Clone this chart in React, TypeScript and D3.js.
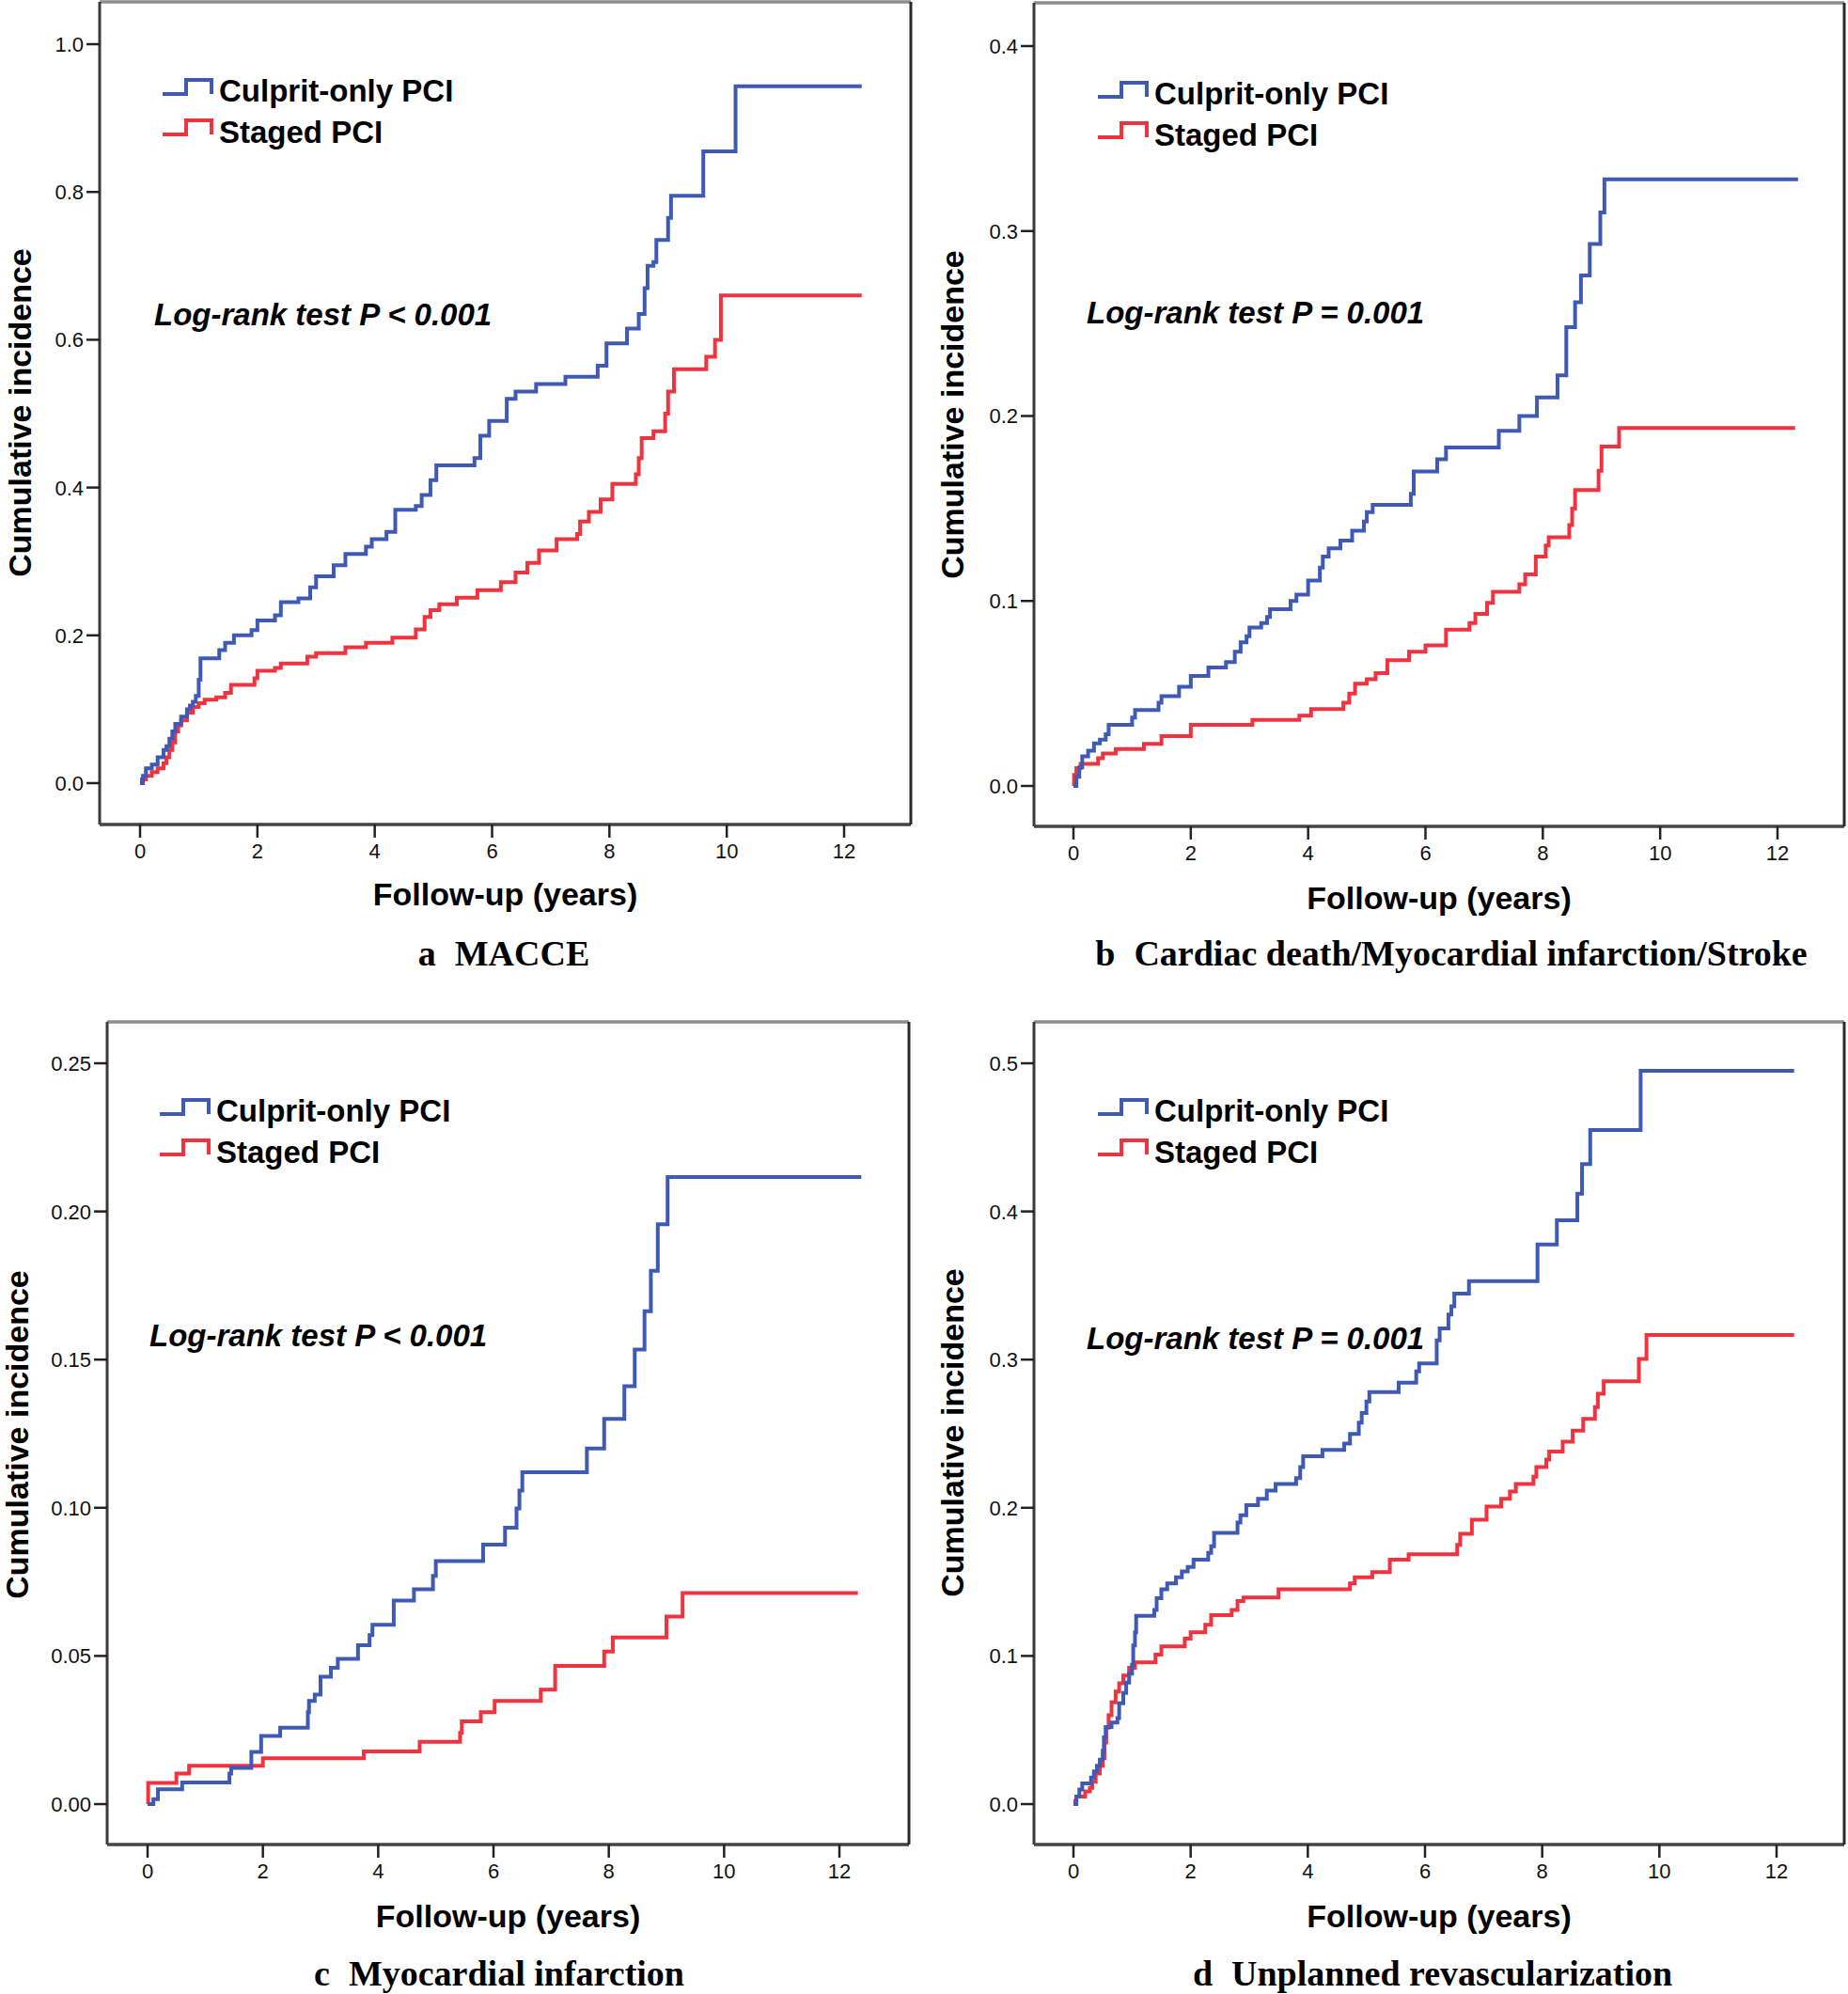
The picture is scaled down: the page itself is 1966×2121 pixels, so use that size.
import React from 'react';
import * as d3 from 'd3';

// step points: [years, cumulative incidence], value holds from that time onward
const maccCulprit = [[0,0],[0.05,0.01],[0.1,0.02],[0.2,0.025],[0.3,0.035],[0.4,0.045],[0.45,0.05],[0.5,0.06],[0.55,0.07],[0.6,0.08],[0.7,0.09],[0.8,0.1],[0.85,0.105],[0.9,0.11],[0.95,0.118],[1.0,0.14],[1.03,0.169],[1.35,0.18],[1.45,0.19],[1.6,0.2],[1.9,0.207],[2.0,0.22],[2.3,0.227],[2.4,0.245],[2.7,0.25],[2.9,0.265],[3.0,0.28],[3.3,0.295],[3.5,0.31],[3.85,0.32],[3.95,0.33],[4.2,0.34],[4.35,0.37],[4.7,0.375],[4.8,0.39],[4.95,0.41],[5.05,0.43],[5.7,0.44],[5.8,0.47],[5.95,0.49],[6.25,0.52],[6.4,0.53],[6.75,0.54],[7.25,0.55],[7.8,0.565],[7.95,0.595],[8.3,0.615],[8.5,0.635],[8.6,0.67],[8.65,0.7],[8.75,0.705],[8.8,0.735],[9.0,0.765],[9.05,0.795],[9.6,0.855],[10.15,0.943],[12.3,0.943]];
const maccStaged = [[0,0.005],[0.1,0.01],[0.2,0.015],[0.3,0.02],[0.4,0.027],[0.45,0.035],[0.5,0.045],[0.55,0.055],[0.6,0.07],[0.65,0.078],[0.7,0.085],[0.8,0.095],[0.9,0.103],[1.0,0.108],[1.1,0.113],[1.3,0.116],[1.45,0.122],[1.55,0.133],[1.95,0.142],[2.0,0.152],[2.3,0.156],[2.4,0.162],[2.85,0.171],[3.0,0.176],[3.5,0.184],[3.85,0.19],[4.3,0.197],[4.7,0.208],[4.85,0.225],[4.95,0.234],[5.1,0.242],[5.4,0.251],[5.75,0.261],[6.15,0.272],[6.4,0.285],[6.6,0.298],[6.8,0.315],[7.1,0.33],[7.45,0.337],[7.5,0.354],[7.65,0.367],[7.85,0.384],[8.05,0.405],[8.45,0.418],[8.5,0.44],[8.55,0.467],[8.75,0.476],[8.95,0.5],[9.0,0.53],[9.1,0.56],[9.65,0.577],[9.8,0.6],[9.9,0.66],[12.3,0.66]];

const cdmsCulprit = [[0,0],[0.05,0.005],[0.1,0.01],[0.15,0.016],[0.25,0.019],[0.35,0.023],[0.45,0.025],[0.55,0.028],[0.6,0.033],[1.0,0.037],[1.05,0.041],[1.45,0.045],[1.5,0.0485],[1.8,0.0536],[2.0,0.0595],[2.3,0.064],[2.6,0.067],[2.75,0.0725],[2.85,0.0777],[2.95,0.081],[3.0,0.0856],[3.2,0.088],[3.3,0.0914],[3.35,0.0955],[3.7,0.1],[3.8,0.1034],[4.0,0.111],[4.2,0.118],[4.25,0.124],[4.35,0.1285],[4.55,0.1326],[4.75,0.138],[4.95,0.143],[5.0,0.148],[5.1,0.152],[5.75,0.158],[5.8,0.17],[6.2,0.1766],[6.35,0.183],[7.25,0.192],[7.6,0.2],[7.9,0.21],[8.25,0.222],[8.4,0.248],[8.55,0.2615],[8.65,0.276],[8.8,0.293],[8.98,0.31],[9.05,0.328],[12.35,0.328]];
const cdmsStaged = [[0,0],[0.01,0.006],[0.05,0.0096],[0.12,0.012],[0.42,0.015],[0.5,0.0175],[0.72,0.02],[1.2,0.0227],[1.5,0.027],[2.0,0.033],[3.05,0.0357],[3.85,0.038],[4.05,0.0416],[4.6,0.045],[4.7,0.05],[4.8,0.0553],[5.0,0.0577],[5.15,0.061],[5.35,0.068],[5.72,0.0725],[6.0,0.076],[6.35,0.0845],[6.75,0.088],[6.85,0.093],[7.05,0.099],[7.15,0.105],[7.6,0.109],[7.7,0.1144],[7.88,0.124],[8.05,0.13],[8.1,0.1344],[8.45,0.141],[8.5,0.15],[8.55,0.16],[8.95,0.1704],[9.0,0.1835],[9.3,0.1935],[12.3,0.1935]];

const miCulprit = [[0,0],[0.1,0.0017],[0.18,0.005],[0.6,0.0073],[1.42,0.0103],[1.45,0.0122],[1.8,0.0176],[1.97,0.023],[2.3,0.0258],[2.78,0.031],[2.8,0.0348],[2.9,0.037],[3.0,0.043],[3.18,0.046],[3.3,0.049],[3.65,0.0536],[3.85,0.057],[3.9,0.0605],[4.27,0.0687],[4.62,0.0725],[4.95,0.077],[5.0,0.082],[5.82,0.0876],[6.2,0.0933],[6.4,0.0998],[6.45,0.1058],[6.5,0.112],[7.62,0.12],[7.92,0.13],[8.27,0.141],[8.45,0.1534],[8.62,0.1663],[8.73,0.18],[8.85,0.1957],[9.02,0.2116],[12.38,0.2116]];
const miStaged = [[0,0],[0.01,0.0071],[0.5,0.0103],[0.72,0.0129],[2.0,0.0155],[3.75,0.0178],[4.72,0.021],[5.42,0.024],[5.45,0.0279],[5.78,0.031],[6.02,0.0348],[6.82,0.0386],[7.07,0.0466],[7.92,0.0515],[8.07,0.0562],[9.0,0.0633],[9.28,0.0712],[12.32,0.0712]];

const revascCulprit = [[0,0],[0.05,0.005],[0.1,0.0099],[0.15,0.014],[0.3,0.018],[0.35,0.022],[0.4,0.0258],[0.45,0.03],[0.5,0.036],[0.52,0.045],[0.55,0.052],[0.65,0.055],[0.75,0.058],[0.78,0.068],[0.85,0.075],[0.9,0.082],[0.95,0.088],[1.0,0.094],[1.02,0.107],[1.05,0.116],[1.07,0.127],[1.38,0.131],[1.42,0.139],[1.5,0.145],[1.6,0.149],[1.75,0.153],[1.85,0.157],[1.95,0.16],[2.05,0.165],[2.3,0.1695],[2.35,0.174],[2.4,0.183],[2.8,0.19],[2.85,0.195],[2.95,0.2017],[3.15,0.206],[3.3,0.2116],[3.45,0.216],[3.8,0.22],[3.87,0.2275],[3.92,0.2348],[4.25,0.239],[4.62,0.2433],[4.72,0.2498],[4.87,0.2575],[4.92,0.264],[5.0,0.2717],[5.05,0.278],[5.55,0.2845],[5.85,0.292],[5.9,0.2974],[6.2,0.313],[6.25,0.321],[6.4,0.3305],[6.45,0.336],[6.5,0.3446],[6.75,0.353],[7.92,0.3777],[8.25,0.394],[8.6,0.412],[8.68,0.432],[8.82,0.455],[9.68,0.495],[12.3,0.495]];
const revascStaged = [[0,0.002],[0.05,0.005],[0.2,0.0086],[0.28,0.011],[0.32,0.015],[0.38,0.0206],[0.45,0.0258],[0.5,0.031],[0.53,0.0416],[0.56,0.0515],[0.6,0.06],[0.65,0.0687],[0.72,0.076],[0.78,0.0815],[0.85,0.0867],[0.95,0.092],[1.05,0.0957],[1.4,0.1009],[1.5,0.1064],[1.9,0.1116],[2.0,0.116],[2.25,0.121],[2.35,0.1275],[2.7,0.131],[2.8,0.137],[2.9,0.1395],[3.5,0.145],[4.72,0.149],[4.8,0.153],[5.1,0.1566],[5.4,0.165],[5.72,0.1687],[6.55,0.175],[6.6,0.1824],[6.8,0.192],[7.05,0.2009],[7.3,0.206],[7.45,0.211],[7.55,0.216],[7.85,0.221],[7.9,0.2275],[8.07,0.2326],[8.12,0.238],[8.35,0.2446],[8.52,0.252],[8.7,0.26],[8.9,0.268],[8.95,0.277],[9.05,0.2854],[9.65,0.3004],[9.78,0.3167],[12.3,0.3167]];

const xTicks = [0, 2, 4, 6, 8, 10, 12];
const seriesNames = ['Culprit-only PCI', 'Staged PCI'];
const BLUE = '#3f5ab5';
const RED = '#f0333f';

type Pt = number[];
type PanelDef = {
  letter: string; caption: string; pText: string;
  yTicks: number[]; yFmt: string;
  culprit: Pt[]; staged: Pt[];
  frame: { L: number; T: number; R: number; B: number };
  xr: [number, number]; yr: [number, number];
  legend: [number, number]; ptext: [number, number];
  xTitleY: number; yTitle: [number, number]; capX: number; capY: number;
};

const panels: PanelDef[] = [
  {
    letter: 'a', caption: 'MACCE', pText: 'Log-rank test P < 0.001',
    yTicks: [0, 0.2, 0.4, 0.6, 0.8, 1.0], yFmt: '.1f',
    culprit: maccCulprit, staged: maccStaged,
    frame: { L: 106, T: 2, R: 969, B: 877 }, xr: [149, 898], yr: [833, 47],
    legend: [173, 85], ptext: [164, 346], xTitleY: 963, yTitle: [33, 439], capX: 536, capY: 1027,
  },
  {
    letter: 'b', caption: 'Cardiac death/Myocardial infarction/Stroke', pText: 'Log-rank test P = 0.001',
    yTicks: [0, 0.1, 0.2, 0.3, 0.4], yFmt: '.1f',
    culprit: cdmsCulprit, staged: cdmsStaged,
    frame: { L: 1100, T: 3, R: 1962, B: 879 }, xr: [1142, 1891], yr: [836, 49],
    legend: [1168, 88], ptext: [1156, 344], xTitleY: 967, yTitle: [1025, 441], capX: 1544, capY: 1027,
  },
  {
    letter: 'c', caption: 'Myocardial infarction', pText: 'Log-rank test P < 0.001',
    yTicks: [0, 0.05, 0.1, 0.15, 0.2, 0.25], yFmt: '.2f',
    culprit: miCulprit, staged: miStaged,
    frame: { L: 114, T: 1087, R: 967, B: 1962 }, xr: [157, 893], yr: [1919, 1131],
    legend: [170, 1170], ptext: [159, 1432], xTitleY: 2050, yTitle: [30, 1526], capX: 531, capY: 2112,
  },
  {
    letter: 'd', caption: 'Unplanned revascularization', pText: 'Log-rank test P = 0.001',
    yTicks: [0, 0.1, 0.2, 0.3, 0.4, 0.5], yFmt: '.1f',
    culprit: revascCulprit, staged: revascStaged,
    frame: { L: 1100, T: 1087, R: 1962, B: 1962 }, xr: [1142, 1890], yr: [1919, 1131],
    legend: [1168, 1170], ptext: [1156, 1435], xTitleY: 2050, yTitle: [1025, 1524], capX: 1524, capY: 2112,
  },
];

const SANS = 'Arial, "Liberation Sans", Helvetica, sans-serif';
const SERIF = '"Times New Roman", "Liberation Serif", Times, serif';

function Panel({ p }: { p: PanelDef }) {
  const { L, T, R, B } = p.frame;
  const x = d3.scaleLinear().domain([0, 12]).range(p.xr);
  const y = d3.scaleLinear().domain([0, p.yTicks[p.yTicks.length - 1]]).range(p.yr);
  const line = d3.line<Pt>().x(d => x(d[0])).y(d => y(d[1])).curve(d3.curveStepAfter);
  const fmt = d3.format(p.yFmt);
  const [lx, ly] = p.legend;
  const glyph = (yy: number) => `M${lx},${yy + 15}H${lx + 25}V${yy}H${lx + 52}V${yy + 15}`;
  return (
    <g>
      {/* frame */}
      <line x1={L} x2={R} y1={T} y2={T} stroke="#8c8c8c" strokeWidth={3.5} />
      <line x1={L} x2={L} y1={T} y2={B} stroke="#3a3a3a" strokeWidth={3} />
      <line x1={L} x2={R} y1={B} y2={B} stroke="#444" strokeWidth={3.5} />
      <line x1={R} x2={R} y1={T} y2={B} stroke="#2a2a2a" strokeWidth={3} />
      {/* y axis */}
      {p.yTicks.map(t => (
        <g key={'y' + t}>
          <line x1={L - 14} x2={L} y1={y(t)} y2={y(t)} stroke="#222" strokeWidth={2.5} />
          <text x={L - 17} y={y(t)} dy="0.36em" textAnchor="end" fontFamily={SANS} fontSize={22} fill="#111">{fmt(t)}</text>
        </g>
      ))}
      {/* x axis */}
      {xTicks.map(t => (
        <g key={'x' + t}>
          <line x1={x(t)} x2={x(t)} y1={B} y2={B + 14} stroke="#222" strokeWidth={2.5} />
          <text x={x(t)} y={B + 36} textAnchor="middle" fontFamily={SANS} fontSize={22} fill="#111">{t}</text>
        </g>
      ))}
      {/* curves */}
      <path d={line(p.staged) || ''} fill="none" stroke={RED} strokeWidth={4} />
      <path d={line(p.culprit) || ''} fill="none" stroke={BLUE} strokeWidth={4} />
      {/* legend */}
      <path d={glyph(ly)} fill="none" stroke={BLUE} strokeWidth={4} />
      <text x={lx + 60} y={ly + 23} fontFamily={SANS} fontWeight="bold" fontSize={33} fill="#000">{seriesNames[0]}</text>
      <path d={glyph(ly + 43)} fill="none" stroke={RED} strokeWidth={4} />
      <text x={lx + 60} y={ly + 67} fontFamily={SANS} fontWeight="bold" fontSize={33} fill="#000">{seriesNames[1]}</text>
      {/* log-rank */}
      <text x={p.ptext[0]} y={p.ptext[1]} fontFamily={SANS} fontWeight="bold" fontStyle="italic" fontSize={33} fill="#000">{p.pText}</text>
      {/* axis titles */}
      <text x={(L + R) / 2} y={p.xTitleY} textAnchor="middle" fontFamily={SANS} fontWeight="bold" fontSize={34} fill="#000">Follow-up (years)</text>
      <text transform={`translate(${p.yTitle[0]},${p.yTitle[1]}) rotate(-90)`} textAnchor="middle" fontFamily={SANS} fontWeight="bold" fontSize={34} fill="#000">Cumulative incidence</text>
      {/* caption */}
      <text x={p.capX} y={p.capY} textAnchor="middle" fontFamily={SERIF} fontWeight="bold" fontSize={38} fill="#000">
        <tspan>{p.letter}</tspan><tspan dx={20}>{p.caption}</tspan>
      </text>
    </g>
  );
}

export default function App() {
  return (
    <svg width={1966} height={2121} viewBox="0 0 1966 2121"
      style={{ position: 'absolute', left: 0, top: 0, background: '#fff' }}>
      <rect width={1966} height={2121} fill="#fff" />
      {panels.map(p => <Panel key={p.letter} p={p} />)}
    </svg>
  );
}
